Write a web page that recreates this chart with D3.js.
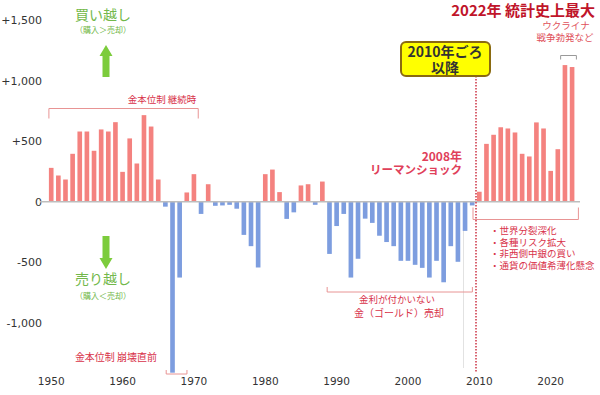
<!DOCTYPE html>
<html>
<head>
<meta charset="utf-8">
<script src="https://cdn.jsdelivr.net/npm/d3@7"></script>
<style>
  body { margin: 0; background: #fff; }
  text { font-family: "Noto Sans CJK JP", "Noto Sans", sans-serif; }
  .axis text { font-family: "DejaVu Sans", Verdana, sans-serif; fill: #333; }
</style>
</head>
<body>
<div id="chart"></div>
<script>
var years = d3.range(1950, 2024);
var netTonnes = [
  280, 217, 184, 396, 580, 580, 421, 597, 580, 657,
  247, 523, 316, 715, 621, 184, -40, -1410, -625, 77,
  228, -100, 145, -33, -30, -25, -57, -273, -366, -542,
  228, 266, 80, -141, -87, 135, 145, -25, 167, -430,
  -200, -100, -625, -470, -139, -174, -280, -332, -366, -487,
  -487, -520, -545, -625, -487, -664, -366, -495, -240, -30,
  83, 478, 553, 615, 605, 572, 396, 374, 655, 605,
  255, 434, 1128, 1112
];
var yTicks = [1500, 1000, 500, 0, -500, -1000];
var xTicks = [1950, 1960, 1970, 1980, 1990, 2000, 2010, 2020];
var bullets = ["・世界分裂深化", "・各種リスク拡大", "・非西側中銀の買い", "・通貨の価値希薄化懸念"];

var data = years.map(function (y, i) { return { year: y, value: netTonnes[i] }; });

var width = 600, height = 395;
var svg = d3.select("#chart").append("svg")
  .attr("width", width)
  .attr("height", height);

var x = d3.scaleBand()
  .domain(years)
  .range([46.4, 576.9])
  .padding(0.35);

var y = d3.scaleLinear()
  .domain([-1000, 1500])
  .range([323, 20]);

// y axis
var fmt = d3.format(",");
svg.append("g")
  .attr("class", "axis")
  .attr("transform", "translate(46,0)")
  .call(d3.axisLeft(y).tickValues(yTicks).tickSize(0).tickPadding(4)
    .tickFormat(function (d) { return d > 0 ? "+" + fmt(d) : d < 0 ? "-" + fmt(-d) : "0"; }))
  .call(function (g) { g.select(".domain").remove(); })
  .selectAll("text").style("font-size", "11px");

// x axis
svg.append("g")
  .attr("class", "axis")
  .attr("transform", "translate(0,375)")
  .call(d3.axisBottom(x).tickValues(xTicks).tickSize(0).tickPadding(3))
  .call(function (g) { g.select(".domain").remove(); })
  .selectAll("text").style("font-size", "10.5px");

// faint divider
svg.append("line")
  .attr("x1", 463.5).attr("x2", 463.5)
  .attr("y1", 204).attr("y2", 368)
  .style("stroke", "#e2e2e2").style("stroke-width", 1);

// bars
svg.selectAll("rect.bar")
  .data(data)
  .enter()
  .append("rect")
  .attr("class", "bar")
  .attr("x", function (d) { return x(d.year); })
  .attr("width", x.bandwidth())
  .attr("y", function (d) { return d.value > 0 ? y(d.value) : y(0); })
  .attr("height", function (d) { return Math.abs(y(d.value) - y(0)); })
  .style("fill", function (d) { return d.value > 0 ? "#f4827f" : "#7d9ddf"; });

// zero line
svg.append("line")
  .attr("x1", 40).attr("x2", 580)
  .attr("y1", y(0)).attr("y2", y(0))
  .style("stroke", "#bdbdbd").style("stroke-width", 1.5);

// brackets
function bracket(x1, x2, yy, dir, color) {
  svg.append("path")
    .attr("d", "M" + x1 + "," + (yy + dir) + "V" + yy + "H" + x2 + "V" + (yy + dir))
    .style("fill", "none").style("stroke", color).style("stroke-width", 1);
}
var pink = "#e89494";
bracket(x(1950), x(1970) + x.bandwidth() + 2, 108.5, 10, pink);
bracket(x(1967) - 4, x(1968) + x.bandwidth() + 5, 374, -4, pink);
bracket(x(1989), x(2008) + x.bandwidth() + 5, 292, -5, pink);
bracket(x(2010) - 4, x(2023) + x.bandwidth() + 4, 219.5, -12, pink);
bracket(x(2022) - 2, x(2023) + x.bandwidth() + 2, 55.5, 4, "#999");

function label(t, xx, yy, size, color, anchor, weight) {
  return svg.append("text")
    .attr("x", xx).attr("y", yy)
    .attr("dy", "0.35em")
    .attr("text-anchor", anchor || "middle")
    .style("font-size", size + "px")
    .style("font-weight", weight || "normal")
    .style("fill", color)
    .text(t);
}

var red = "#d8324a";
label("金本位制 継続時", 162, 100, 9.5, red);
label("金本位制 崩壊直前", 116, 357, 10, red);
label("金利が付かいない", 397, 300, 9.5, red);
label("金（ゴールド）売却", 399, 313, 10, red);
bullets.forEach(function (b, i) {
  label(b, 490, 231 + i * 11.5, 9.5, red, "start");
});
label("2008年", 462, 157, 12, "#e0405a", "end", "bold");
label("リーマンショック", 462, 170, 11.5, "#e0405a", "end", "bold");
label("ウクライナ", 566, 26, 9.5, "#e0505a");
label("戦争勃発など", 565, 38, 9.5, "#e0505a");
label("2022年 統計史上最大", 595, 11, 15, "#c0142a", "end", "bold");

// green notes
var green = "#72b84a";
label("買い越し", 103, 15, 14, green);
label("（購入＞売却）", 103, 30, 8, green);
label("売り越し", 103, 279, 14, green);
label("（購入＜売却）", 103, 296, 8, green);
svg.append("path")
  .attr("d", "M106,45 L112.5,56 L109.5,56 L109.5,77 L102.5,77 L102.5,56 L99.5,56 Z")
  .style("fill", "#7ccc3c");
svg.append("path")
  .attr("d", "M106,269 L112.5,258 L109.5,258 L109.5,236 L102.5,236 L102.5,258 L99.5,258 Z")
  .style("fill", "#7ccc3c");

// 2010 marker
svg.append("line")
  .attr("x1", 476).attr("x2", 476)
  .attr("y1", 76).attr("y2", 373)
  .style("stroke", "#cc3344").style("stroke-width", 1.5)
  .style("stroke-dasharray", "1.5,1.5");
svg.append("rect")
  .attr("x", 401).attr("y", 42)
  .attr("width", 89).attr("height", 34)
  .attr("rx", 5)
  .style("fill", "#ffff00").style("stroke", "#8a6a10").style("stroke-width", 2);
label("2010年ごろ", 445, 52, 14, "#333", "middle", "bold");
label("以降", 445, 68, 14, "#333", "middle", "bold");
</script>
</body>
</html>
